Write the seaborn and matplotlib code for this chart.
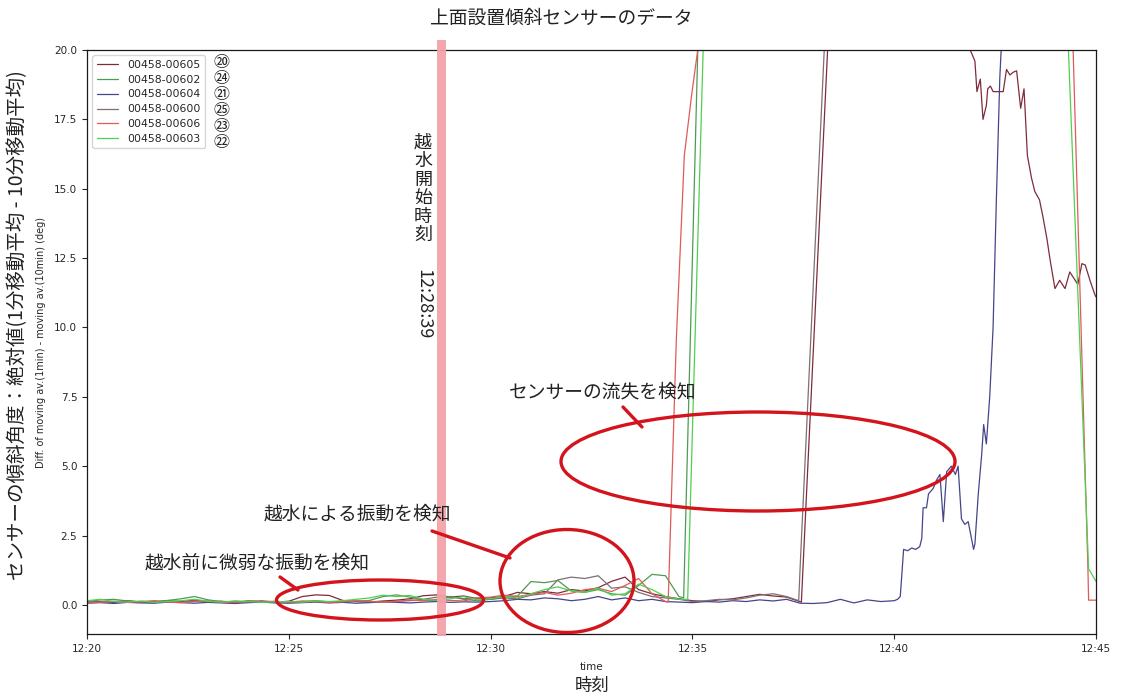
import numpy as np
import pandas as pd
import seaborn as sns
import matplotlib
matplotlib.use("Agg")
import matplotlib.pyplot as plt
from matplotlib.patches import Ellipse

# ---------------- data ----------------
sensors = ["00458-00605", "00458-00602", "00458-00604", "00458-00600", "00458-00606", "00458-00603"]
circled = ["⑳", "㉔", "㉑", "㉕", "㉓", "㉒"]
colors = ["#7e2c3c", "#4f9a55", "#45458c", "#7d6f72", "#e05a5a", "#4fd04f"]

base_time = "2000-01-01 12:20:00"
step_s = 20  # sampling interval of the low-level part (seconds)

# low-level part, one value every 20 s from 12:20:00
noise_00605 = [0.10, 0.12, 0.09, 0.14, 0.11, 0.10, 0.15, 0.12, 0.17, 0.11, 0.13, 0.09, 0.14, 0.12, 0.10,
               0.13, 0.30, 0.36, 0.34, 0.16, 0.12, 0.10, 0.14, 0.17, 0.22, 0.33, 0.36, 0.28, 0.32, 0.22,
               0.25, 0.30, 0.45, 0.40, 0.48, 0.42, 0.55, 0.50, 0.62, 0.85, 1.00, 0.55, 0.40, 0.30, 0.22,
               0.15, 0.12, 0.18, 0.22, 0.30, 0.38, 0.32, 0.28]
noise_00602 = [0.12, 0.18, 0.20, 0.14, 0.10, 0.12, 0.16, 0.22, 0.30, 0.18, 0.12, 0.10, 0.14, 0.11, 0.13,
               0.10, 0.12, 0.15, 0.11, 0.10, 0.13, 0.16, 0.30, 0.36, 0.28, 0.18, 0.14, 0.30, 0.20, 0.15,
               0.20, 0.28, 0.32, 0.84, 0.80, 0.88, 0.50, 0.45, 0.55, 0.40, 0.35, 0.70, 1.10, 1.05, 0.30]
noise_00604 = [0.06, 0.08, 0.05, 0.09, 0.07, 0.06, 0.10, 0.08, 0.06, 0.09, 0.07, 0.05, 0.08, 0.10, 0.07,
               0.06, 0.08, 0.10, 0.07, 0.09, 0.06, 0.08, 0.11, 0.09, 0.07, 0.10, 0.12, 0.09, 0.11, 0.10,
               0.12, 0.15, 0.20, 0.18, 0.25, 0.22, 0.15, 0.20, 0.30, 0.18, 0.25, 0.15, 0.20, 0.12, 0.10,
               0.08, 0.12, 0.10, 0.15, 0.12, 0.18, 0.14, 0.20, 0.06, 0.05, 0.08, 0.20, 0.07, 0.18, 0.12,
               0.15]
noise_00600 = [0.11, 0.09, 0.12, 0.15, 0.10, 0.13, 0.11, 0.09, 0.14, 0.12, 0.10, 0.13, 0.11, 0.15, 0.10,
               0.12, 0.09, 0.13, 0.10, 0.12, 0.14, 0.11, 0.10, 0.13, 0.15, 0.20, 0.28, 0.30, 0.22, 0.25,
               0.20, 0.25, 0.22, 0.35, 0.40, 0.90, 1.00, 0.95, 1.05, 0.60, 0.65, 0.45, 0.30, 0.25, 0.20,
               0.12, 0.15, 0.20, 0.18, 0.25, 0.35, 0.40, 0.30]
noise_00606 = [0.08, 0.10, 0.13, 0.09, 0.12, 0.15, 0.10, 0.08, 0.12, 0.14, 0.10, 0.09, 0.13, 0.11, 0.12,
               0.10, 0.14, 0.12, 0.09, 0.11, 0.15, 0.13, 0.10, 0.12, 0.18, 0.15, 0.20, 0.16, 0.14, 0.25,
               0.28, 0.35, 0.30, 0.38, 0.45, 0.35, 0.42, 0.55, 0.60, 0.48, 0.70, 0.95, 0.40, 0.12]
noise_00603 = [0.15, 0.20, 0.12, 0.10, 0.14, 0.09, 0.12, 0.15, 0.20, 0.13, 0.10, 0.14, 0.12, 0.09, 0.11,
               0.12, 0.10, 0.14, 0.12, 0.15, 0.20, 0.25, 0.35, 0.30, 0.34, 0.20, 0.16, 0.22, 0.30, 0.18,
               0.22, 0.30, 0.25, 0.40, 0.55, 0.65, 0.50, 0.45, 0.60, 0.35, 0.40, 0.75, 0.55, 0.30, 0.20]

# later part: seconds after 12:20:00 and values (values above 20 are off the chart)
tail_t_00605 = [1062, 1101, 1105, 1308, 1313, 1320, 1323, 1328, 1332, 1337, 1339, 1343, 1347, 1362, 1367,
                1372, 1377, 1382, 1384, 1388, 1393, 1398, 1404, 1409, 1416, 1421, 1427, 1432, 1439, 1446,
                1454, 1461, 1473, 1479, 1484, 1491, 1498, 1500]
tail_v_00605 = [0.10, 20.0, 22.0, 22.0, 20.0, 19.6, 18.5, 18.95, 17.5, 18.0, 18.6, 18.7, 18.5, 18.5, 19.3,
                19.1, 19.2, 19.25, 18.8, 17.9, 18.6, 16.2, 15.4, 14.9, 14.6, 14.0, 13.2, 12.4, 11.4, 11.7,
                11.4, 12.0, 11.55, 12.3, 12.25, 11.7, 11.2, 11.1]
tail_t_00602 = [887, 908, 912, 1500]
tail_v_00602 = [0.25, 20.0, 22.0, 22.0]
tail_t_00604 = [1205, 1209, 1214, 1220, 1226, 1232, 1238, 1241, 1243, 1248, 1251, 1258, 1263, 1268, 1273,
                1278, 1285, 1291, 1295, 1300, 1305, 1310, 1318, 1320, 1325, 1330, 1333, 1337, 1342, 1347,
                1352, 1357, 1361, 1365, 1500]
tail_v_00604 = [0.20, 0.30, 2.0, 1.95, 2.05, 2.0, 2.1, 2.4, 3.5, 3.5, 4.0, 4.2, 4.5, 4.7, 3.0,
                4.8, 5.0, 4.7, 5.0, 3.1, 2.9, 3.0, 2.0, 2.2, 4.0, 5.4, 6.5, 5.8, 7.5, 10.0,
                14.7, 19.0, 21.0, 22.0, 22.0]
tail_t_00600 = [1058, 1061, 1096, 1100, 1500]
tail_v_00600 = [0.15, 1.8, 20.0, 22.0, 22.0]
tail_t_00606 = [864, 876, 888, 899, 909, 913, 1462, 1466, 1488, 1489, 1500]
tail_v_00606 = [0.10, 9.5, 16.2, 18.4, 20.2, 22.0, 22.0, 20.0, 1.3, 0.17, 0.17]
tail_t_00603 = [893, 916, 920, 1455, 1459, 1489, 1500]
tail_v_00603 = [0.20, 20.0, 22.0, 22.0, 20.0, 1.3, 0.85]

xtick_labels = ["12:20", "12:25", "12:30", "12:35", "12:40", "12:45"]
ytick_values = [0.0, 2.5, 5.0, 7.5, 10.0, 12.5, 15.0, 17.5, 20.0]
flood_start = "12:28:39"

noise = {"00458-00605": noise_00605, "00458-00602": noise_00602, "00458-00604": noise_00604,
         "00458-00600": noise_00600, "00458-00606": noise_00606, "00458-00603": noise_00603}
tails = {"00458-00605": (tail_t_00605, tail_v_00605), "00458-00602": (tail_t_00602, tail_v_00602),
         "00458-00604": (tail_t_00604, tail_v_00604), "00458-00600": (tail_t_00600, tail_v_00600),
         "00458-00606": (tail_t_00606, tail_v_00606), "00458-00603": (tail_t_00603, tail_v_00603)}

t0 = pd.Timestamp(base_time)
rows = []
for s in sensors:
    secs = [i * step_s for i in range(len(noise[s]))] + list(tails[s][0])
    vals = list(noise[s]) + list(tails[s][1])
    for sec, v in zip(secs, vals):
        rows.append({"time": t0 + pd.Timedelta(seconds=sec), "value": v, "sensor": s})
df = pd.DataFrame(rows)

# ---------------- style ----------------
sns.set_style("ticks")
plt.rcParams["font.family"] = ["DejaVu Sans", "Noto Sans CJK JP"]
JP = ["Noto Sans CJK JP", "DejaVu Sans"]

W, H = 1123, 695
fig = plt.figure(figsize=(W / 100, H / 100), dpi=100)
ax = fig.add_axes([87 / W, 1 - 634 / H, (1096 - 87) / W, (634 - 50) / H])

sns.lineplot(data=df, x="time", y="value", hue="sensor", hue_order=sensors,
             palette=dict(zip(sensors, colors)), estimator=None, sort=False,
             linewidth=0.9, ax=ax)

day = base_time.split(" ")[0]
ax.set_xlim(pd.Timestamp(day + " 12:20"), pd.Timestamp(day + " 12:45"))
ax.set_ylim(-1.05, 20)
ax.set_xticks([pd.Timestamp(day + " " + l) for l in xtick_labels])
ax.set_xticklabels(xtick_labels, fontsize=7.5)
ax.set_yticks(ytick_values)
ax.set_yticklabels([f"{v:.1f}" for v in ytick_values], fontsize=7.5)
ax.tick_params(length=3.5, width=0.8, colors=".15")
for sp in ax.spines.values():
    sp.set_linewidth(0.9)
    sp.set_color(".1")
ax.set_xlabel("time", fontsize=7.5, labelpad=6)
ax.set_ylabel("Diff. of moving av.(1min) - moving av.(10min) (deg)", fontsize=7, labelpad=6)

# flood start band
fs = pd.Timestamp(day + " " + flood_start)
ax.axvspan(fs + pd.Timedelta(seconds=2), fs + pd.Timedelta(seconds=15), ymin=-0.004, ymax=1.017,
           color="#f4a2a8", alpha=0.95, lw=0, clip_on=False, zorder=5)

sns.move_legend(ax, "upper left", title=None, fontsize=7.8, frameon=True,
                handlelength=2.0, labelspacing=0.45, borderaxespad=0.5)

# ---------------- annotations (figure pixel coordinates) ----------------
ov = fig.add_axes([0, 0, 1, 1], facecolor="none")
ov.set_xlim(0, W)
ov.set_ylim(H, 0)
ov.axis("off")

fig.text(0.5, 1 - 18 / H, "上面設置傾斜センサーのデータ", ha="center", va="center",
         fontsize=13.5, family=JP, color="#222222")
fig.text(18 / W, 1 - 325 / H, "センサーの傾斜角度：絶対値(1分移動平均 - 10分移動平均)",
         rotation=90, ha="center", va="center", fontsize=14, family=JP, color="#222222")
fig.text(592 / W, 1 - 686 / H, "時刻", ha="center", va="center", fontsize=12.5,
         family=JP, color="#222222")

for i, c in enumerate(circled):
    ov.text(222, 62 + 16 * i, c, ha="center", va="center", fontsize=11.5, family=JP, color="#222222")

ov.text(423, 134, "越\n水\n開\n始\n時\n刻", ha="center", va="top", fontsize=13,
        family=JP, linespacing=1.03, color="#222222")
ov.text(423, 304, flood_start, ha="center", va="center", rotation=-90, fontsize=13,
        family=JP, color="#222222")

red = "#d3141c"
for (cx, cy, w, h) in [(380, 600, 207, 40), (567, 581, 134, 103), (758, 461.5, 394, 99)]:
    ov.add_patch(Ellipse((cx, cy), w, h, fill=False, ec=red, lw=2.4))
for (x1, y1, x2, y2) in [(280, 577, 298, 590), (432, 531, 510, 558), (623, 407, 642, 427)]:
    ov.plot([x1, x2], [y1, y2], color=red, lw=2.4)

ov.text(257, 563, "越水前に微弱な振動を検知", ha="center", va="center", fontsize=13.5, family=JP, color="#222222")
ov.text(357, 514, "越水による振動を検知", ha="center", va="center", fontsize=13.5, family=JP, color="#222222")
ov.text(603, 392, "センサーの流失を検知", ha="center", va="center", fontsize=13.5, family=JP, color="#222222")

fig.savefig("out.png", dpi=100)
